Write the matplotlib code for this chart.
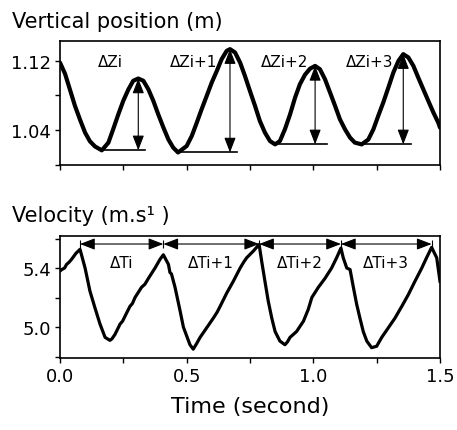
import matplotlib.pyplot as plt
from matplotlib.ticker import FixedLocator, MultipleLocator, NullFormatter

# vertical position trace
t_pos = [0.000, 0.020, 0.039, 0.059, 0.079, 0.099, 0.118, 0.138, 0.165, 0.191,
         0.210, 0.230, 0.250, 0.270, 0.289, 0.309, 0.329, 0.349, 0.368, 0.388,
         0.408, 0.428, 0.447, 0.466, 0.500, 0.520, 0.540, 0.559, 0.579, 0.599,
         0.619, 0.638, 0.658, 0.671, 0.691, 0.711, 0.730, 0.750, 0.770, 0.789,
         0.809, 0.829, 0.849, 0.868, 0.888, 0.908, 0.928, 0.947, 0.967, 0.987,
         1.007, 1.026, 1.046, 1.066, 1.086, 1.105, 1.125, 1.145, 1.164, 1.191,
         1.217, 1.237, 1.256, 1.276, 1.296, 1.316, 1.336, 1.355, 1.375, 1.395,
         1.414, 1.434, 1.454, 1.474, 1.493, 1.500]
z_pos = [1.118, 1.105, 1.087, 1.068, 1.052, 1.037, 1.027, 1.021, 1.0165, 1.0254,
         1.041, 1.058, 1.074, 1.087, 1.097, 1.0996, 1.097, 1.087, 1.074, 1.058,
         1.043, 1.029, 1.0196, 1.0140, 1.0215, 1.033, 1.0486, 1.064, 1.0794, 1.095,
         1.1084, 1.122, 1.1316, 1.1336, 1.1297, 1.118, 1.1026, 1.085, 1.0678, 1.0504,
         1.037, 1.0272, 1.0234, 1.0272, 1.041, 1.058, 1.0776, 1.093, 1.104, 1.111,
         1.1142, 1.1104, 1.0988, 1.0834, 1.0678, 1.0524, 1.0408, 1.0312, 1.0254, 1.0234,
         1.029, 1.0408, 1.0562, 1.0718, 1.089, 1.1066, 1.120, 1.1278, 1.124, 1.1142,
         1.1008, 1.0872, 1.0736, 1.0602, 1.0486, 1.0428]

# velocity trace
t_vel = [0.000, 0.007, 0.018, 0.026, 0.036, 0.046, 0.063, 0.079, 0.099, 0.118,
         0.138, 0.158, 0.178, 0.197, 0.205, 0.217, 0.237, 0.247, 0.257, 0.276,
         0.286, 0.296, 0.322, 0.335, 0.349, 0.375, 0.385, 0.395, 0.408, 0.428,
         0.434, 0.440, 0.454, 0.474, 0.487, 0.513, 0.526, 0.540, 0.553, 0.579,
         0.605, 0.620, 0.632, 0.658, 0.684, 0.711, 0.725, 0.737, 0.763, 0.786,
         0.796, 0.809, 0.822, 0.836, 0.849, 0.868, 0.888, 0.898, 0.908, 0.934,
         0.961, 0.980, 0.994, 1.020, 1.046, 1.072, 1.092, 1.109, 1.118, 1.132,
         1.145, 1.158, 1.171, 1.184, 1.197, 1.211, 1.230, 1.250, 1.270, 1.296,
         1.322, 1.349, 1.375, 1.401, 1.428, 1.447, 1.467, 1.487, 1.500]
v_vel = [5.38, 5.39, 5.40, 5.425, 5.44, 5.46, 5.50, 5.527, 5.40, 5.245,
         5.13, 5.02, 4.93, 4.91, 4.92, 4.95, 5.02, 5.04, 5.075, 5.14,
         5.16, 5.20, 5.27, 5.29, 5.33, 5.40, 5.43, 5.46, 5.49, 5.425,
         5.37, 5.36, 5.27, 5.11, 5.00, 4.88, 4.85, 4.89, 4.93, 4.995,
         5.06, 5.10, 5.14, 5.23, 5.31, 5.40, 5.44, 5.47, 5.515, 5.56,
         5.447, 5.31, 5.176, 5.06, 4.97, 4.905, 4.88, 4.90, 4.93, 4.97,
         5.04, 5.12, 5.20, 5.27, 5.33, 5.40, 5.47, 5.535, 5.47, 5.40,
         5.39, 5.27, 5.155, 5.06, 4.97, 4.905, 4.86, 4.87, 4.93, 4.995,
         5.06, 5.14, 5.22, 5.31, 5.40, 5.47, 5.54, 5.47, 5.31]

# delta Z markers
dz_min_t = [0.158, 0.466, 0.849, 1.191]
dz_min_z = [1.0165, 1.0140, 1.0234, 1.0234]
dz_peak_t = [0.309, 0.671, 1.007, 1.355]
dz_peak_z = [1.0996, 1.1336, 1.1142, 1.1278]
dz_line_end = [0.336, 0.699, 1.054, 1.386]
dz_labels = ["ΔZi", "ΔZi+1", "ΔZi+2", "ΔZi+3"]
dz_label_t = [0.249, 0.620, 0.979, 1.314]
dz_label_z = 1.1197

# delta T markers
dt_peak_t = [0.079, 0.408, 0.786, 1.109, 1.467]
dt_level = 5.563
dt_labels = ["ΔTi", "ΔTi+1", "ΔTi+2", "ΔTi+3"]
dt_label_v = 5.44

fig = plt.figure(figsize=(4.57, 4.31), dpi=100)
ax1 = fig.add_axes([0.1313, 0.6148, 0.8315, 0.2877])
ax2 = fig.add_axes([0.1313, 0.167, 0.8315, 0.283])

arrow = dict(arrowstyle="<|-|>,head_length=0.7,head_width=0.27", color="black",
             lw=0.8, shrinkA=0, shrinkB=0, mutation_scale=13)

# top panel
ax1.plot(t_pos, z_pos, color="black", lw=3, solid_capstyle="round")
for i in range(4):
    ax1.plot([dz_min_t[i], dz_line_end[i]], [dz_min_z[i], dz_min_z[i]], color="black", lw=1.2)
    ax1.annotate("", xy=(dz_peak_t[i], dz_peak_z[i]), xytext=(dz_peak_t[i], dz_min_z[i]),
                 arrowprops=arrow)
    ax1.text(dz_label_t[i], dz_label_z, dz_labels[i], ha="right", va="center", fontsize=11)
ax1.set_xlim(0, 1.5)
ax1.set_ylim(0.9995, 1.143)
ax1.yaxis.set_major_locator(FixedLocator([1.04, 1.12]))
ax1.yaxis.set_minor_locator(FixedLocator([1.0, 1.08]))
ax1.xaxis.set_major_locator(MultipleLocator(0.25))
ax1.xaxis.set_major_formatter(NullFormatter())
ax1.set_yticklabels(["1.04", "1.12"])

# bottom panel
ax2.plot(t_vel, v_vel, color="black", lw=2.3, solid_joinstyle="round")
for i in range(4):
    ax2.annotate("", xy=(dt_peak_t[i + 1], dt_level), xytext=(dt_peak_t[i], dt_level),
                 arrowprops=arrow)
    ax2.text((dt_peak_t[i] + dt_peak_t[i + 1]) / 2, dt_label_v, dt_labels[i],
             ha="center", va="center", fontsize=11)
ax2.vlines(dt_peak_t, dt_level - 0.03, dt_level + 0.03, color="black", lw=0.8)
ax2.set_xlim(0, 1.5)
ax2.set_ylim(4.79, 5.617)
ax2.yaxis.set_major_locator(FixedLocator([5.0, 5.4]))
ax2.yaxis.set_minor_locator(FixedLocator([4.8, 5.2, 5.6]))
ax2.xaxis.set_major_locator(MultipleLocator(0.5))
ax2.xaxis.set_minor_locator(MultipleLocator(0.25))
ax2.xaxis.set_major_formatter(plt.FuncFormatter(lambda x, p: f"{x:.1f}"))
ax2.set_xlabel("Time (second)", fontsize=16, labelpad=8)

for ax in (ax1, ax2):
    for s in ax.spines.values():
        s.set_linewidth(1.2)
    ax.tick_params(which="both", direction="out", length=3.5, width=1, labelsize=13, pad=3,
                   top=False, right=False)

fig.text(12 / 457, 1 - 28 / 431, "Vertical position (m)", fontsize=15, va="baseline")
fig.text(12 / 457, 1 - 222 / 431, "Velocity (m.s¹ )", fontsize=15, va="baseline")

fig.savefig("out.png", dpi=100)
